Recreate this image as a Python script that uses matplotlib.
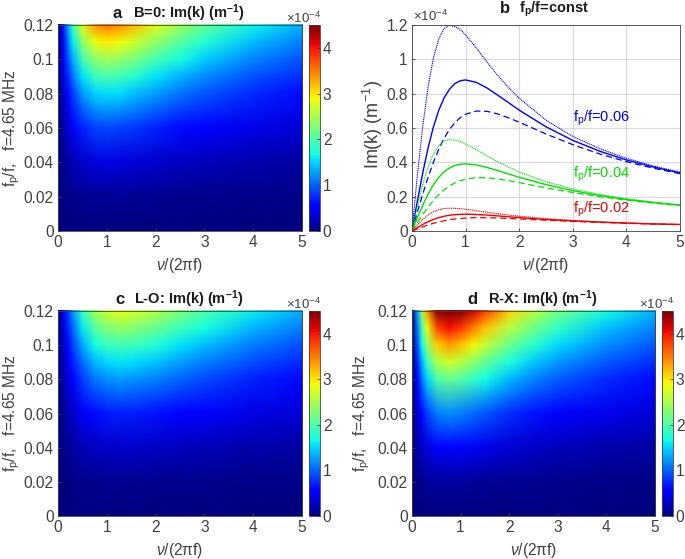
import numpy as np
import matplotlib
matplotlib.use('Agg')
import matplotlib.pyplot as plt
from matplotlib.image import NonUniformImage

plt.rcParams['font.family'] = ['Liberation Sans', 'DejaVu Sans']
plt.rcParams['mathtext.fontset'] = 'custom'
plt.rcParams['mathtext.rm'] = 'Liberation Sans'
plt.rcParams['mathtext.it'] = 'Liberation Sans:italic'
plt.rcParams['mathtext.bf'] = 'Liberation Sans:bold'

W, H = 685, 559
GREY = '#404040'
FS = 11.2

# heatmap grid, values in units of 1e-4 1/m
nu_grid = [0, 0.1, 0.2, 0.3, 0.5, 0.75, 1, 1.25, 1.5, 2, 2.5, 3, 4, 5]
fp_grid = [0, 0.02, 0.04, 0.06, 0.08, 0.09, 0.10, 0.11, 0.12]

im_b0 = [
    [0] * 14,
    [0, .019, .038, .054, .078, .094, .098, .095, .09, .078, .067, .059, .046, .038],
    [0, .077, .15, .215, .313, .375, .391, .381, .361, .313, .27, .234, .184, .15],
    [0, .174, .338, .484, .704, .845, .88, .859, .812, .704, .607, .528, .414, .338],
    [0, .31, .60, .86, 1.25, 1.50, 1.56, 1.53, 1.44, 1.25, 1.08, .94, .74, .60],
    [0, .39, .76, 1.09, 1.58, 1.90, 1.98, 1.93, 1.83, 1.58, 1.37, 1.19, .93, .76],
    [0, .48, .94, 1.35, 1.96, 2.35, 2.45, 2.39, 2.26, 1.96, 1.69, 1.47, 1.15, .94],
    [0, .58, 1.14, 1.63, 2.37, 2.84, 2.96, 2.89, 2.73, 2.37, 2.04, 1.77, 1.39, 1.14],
    [0, .70, 1.35, 1.94, 2.82, 3.38, 3.52, 3.44, 3.25, 2.82, 2.43, 2.11, 1.66, 1.35],
]
im_lo = [
    [0] * 14,
    [0, .012, .024, .035, .053, .068, .075, .078, .077, .07, .063, .056, .045, .037],
    [0, .049, .095, .139, .212, .272, .302, .311, .306, .281, .251, .223, .179, .148],
    [0, .11, .215, .313, .477, .613, .68, .701, .69, .634, .565, .503, .404, .334],
    [0, .196, .383, .557, .849, 1.09, 1.21, 1.25, 1.23, 1.13, 1.01, .895, .719, .595],
    [0, .248, .484, .704, 1.07, 1.38, 1.53, 1.58, 1.55, 1.43, 1.27, 1.13, .909, .752],
    [0, .306, .598, .87, 1.33, 1.70, 1.89, 1.95, 1.92, 1.76, 1.57, 1.40, 1.12, .929],
    [0, .37, .722, 1.05, 1.60, 2.06, 2.28, 2.36, 2.32, 2.13, 1.90, 1.69, 1.36, 1.12],
    [0, .44, .86, 1.25, 1.91, 2.45, 2.72, 2.80, 2.76, 2.54, 2.26, 2.01, 1.62, 1.34],
]
im_rx = [
    [0] * 14,
    [0, .036, .068, .093, .124, .133, .127, .116, .105, .086, .072, .061, .047, .038],
    [0, .143, .271, .373, .497, .533, .507, .464, .419, .343, .287, .245, .188, .152],
    [0, .323, .61, .84, 1.12, 1.20, 1.142, 1.045, .944, .773, .646, .551, .424, .343],
    [0, .575, 1.09, 1.50, 1.99, 2.14, 2.03, 1.86, 1.68, 1.38, 1.15, .98, .755, .61],
    [0, .727, 1.37, 1.89, 2.52, 2.70, 2.57, 2.35, 2.12, 1.74, 1.45, 1.24, .954, .772],
    [0, .90, 1.70, 2.34, 3.11, 3.34, 3.17, 2.91, 2.62, 2.15, 1.80, 1.53, 1.18, .954],
    [0, 1.09, 2.05, 2.82, 3.76, 4.03, 3.84, 3.51, 3.17, 2.60, 2.17, 1.85, 1.42, 1.15],
    [0, 1.29, 2.44, 3.36, 4.48, 4.80, 4.57, 4.18, 3.78, 3.09, 2.58, 2.20, 1.70, 1.37],
]

# panel b curves, units of 1e-4 1/m
nu_line = [0, .05, .1, .2, .3, .4, .5, .6, .7, .8, .9, 1, 1.2, 1.4, 1.6, 1.8, 2, 2.5, 3, 3.5, 4, 4.5, 5]

blue_solid = [0, .088, .174, .338, .484, .607, .704, .776, .826, .859, .875, .88, .866, .833, .791, .748, .704, .607, .528, .465, .414, .373, .338]
blue_dot = [0, .164, .323, .61, .84, 1.01, 1.12, 1.18, 1.20, 1.19, 1.175, 1.142, 1.066, .984, .906, .836, .773, .646, .551, .48, .424, .379, .343]
blue_dash = [0, .055, .11, .215, .313, .401, .477, .541, .592, .631, .66, .68, .699, .697, .682, .659, .634, .565, .503, .449, .404, .366, .334]

green_solid = [0, .039, .077, .15, .215, .27, .313, .345, .367, .382, .389, .391, .385, .37, .352, .332, .313, .27, .235, .207, .184, .166, .15]
green_dot = [0, .073, .143, .271, .373, .449, .497, .524, .533, .529, .522, .507, .474, .437, .403, .372, .343, .287, .245, .213, .188, .168, .152]
green_dash = [0, .024, .049, .095, .139, .178, .212, .24, .263, .28, .293, .302, .311, .31, .303, .293, .282, .251, .224, .2, .18, .163, .148]

red_solid = [0, .01, .019, .038, .054, .067, .078, .086, .092, .095, .097, .098, .096, .093, .088, .083, .078, .067, .059, .052, .046, .041, .038]
red_dot = [0, .018, .036, .068, .093, .112, .124, .131, .133, .132, .13, .127, .118, .109, .101, .093, .086, .072, .061, .053, .047, .042, .038]
red_dash = [0, .006, .012, .024, .035, .045, .053, .06, .066, .07, .073, .075, .078, .077, .076, .073, .07, .063, .056, .05, .045, .041, .037]

x_ticks = [0, 1, 2, 3, 4, 5]
fp_ticks = [0, 0.02, 0.04, 0.06, 0.08, 0.1, 0.12]
fp_labels = ['0', '0.02', '0.04', '0.06', '0.08', '0.1', '0.12']
k_ticks = [0, 0.2, 0.4, 0.6, 0.8, 1, 1.2]
k_labels = ['0', '0.2', '0.4', '0.6', '0.8', '1', '1.2']
cb_ticks = [0, 1, 2, 3, 4]

XLAB = r'$\mathit{\nu}$/(2$\mathrm{\pi}$f)'
YLAB = r'$\mathrm{f_p}$/f,   f=4.65 MHz'


def box(x0, x1, y0, y1):
    # pixel box (top left origin) to a figure axes
    return fig.add_axes([x0 / W, 1 - y1 / H, (x1 - x0) / W, (y1 - y0) / H])


def ptext(x, y, s, **kw):
    kw.setdefault('color', GREY)
    kw.setdefault('fontsize', FS)
    return fig.text(x / W, 1 - y / H, s, **kw)


def style(ax):
    ax.tick_params(direction='in', length=2.5, width=0.6, colors=GREY, labelsize=FS, pad=3)
    for s in ax.spines.values():
        s.set_color(GREY)
        s.set_linewidth(0.6)


def heat(vals, ax_box, cb_box, letter, lx, title, tx, ylab_x):
    ax = box(*ax_box)
    m = NonUniformImage(ax, interpolation='bilinear', cmap='jet', extent=(0, 5, 0, 0.12))
    m.set_clim(0, 4.5)
    # last row repeated just past the axis limit, the image edge shows a stray line otherwise
    m.set_data(nu_grid, fp_grid + [0.125], np.array(vals + [vals[-1]], dtype=float))
    ax.add_image(m)
    ax.set_xlim(0, 5)
    ax.set_ylim(0, 0.12)
    ax.set_aspect('auto')
    ax.set_xticks(x_ticks)
    ax.set_yticks(fp_ticks)
    ax.set_yticklabels(fp_labels)
    style(ax)
    cax = box(*cb_box)
    cb = fig.colorbar(m, cax=cax)
    cb.set_ticks(cb_ticks)
    cb.set_ticklabels([str(t) for t in cb_ticks])
    style(cax)
    cax.tick_params(right=True, left=False, pad=2)
    cb.outline.set_edgecolor(GREY)
    cb.outline.set_linewidth(0.6)
    top, bot = ax_box[2], ax_box[3]
    ptext(lx, top - 7.5, letter, fontsize=12, fontweight='bold', color='#1a1a1a', va='baseline')
    ptext(tx, top - 7.5, title, fontsize=10.5, fontweight='bold', color='#1a1a1a', va='baseline')
    ptext(cb_box[1] + 1, top - 2, r'$\times$10$^{-4}$', ha='right', va='baseline', fontsize=9.5)
    ptext((ax_box[0] + ax_box[1]) / 2, bot + 39, XLAB, ha='center', va='baseline')
    ptext(ylab_x, (top + bot) / 2, YLAB, rotation=90, ha='center', va='center')
    return ax


fig = plt.figure(figsize=(W / 100, H / 100), dpi=100)

heat(im_b0, (58, 302, 25, 231), (309, 320, 25, 231), 'a', 113, r'B=0: Im(k) (m$^{\mathbf{-1}}$)', 133, 12)
heat(im_lo, (58, 302, 311, 516), (309, 320, 311, 516), 'c', 115, r'L-O: Im(k) (m$^{\mathbf{-1}}$)', 134, 12)
heat(im_rx, (412, 655, 311, 516), (662, 673, 311, 516), 'd', 467, r'R-X: Im(k) (m$^{\mathbf{-1}}$)', 488, 362)

# panel b
axb = box(412, 680, 25, 231)
for solid, dot, dash, col in [(blue_solid, blue_dot, blue_dash, '#0000ee'),
                              (green_solid, green_dot, green_dash, '#00e000'),
                              (red_solid, red_dot, red_dash, '#ee0000')]:
    axb.plot(nu_line, solid, color=col, lw=1.0)
    axb.plot(nu_line, dot, color=col, lw=0.8, ls=':', dashes=(1, 0.7))
    axb.plot(nu_line, dash, color=col, lw=0.9, ls='--', dashes=(5, 3))
axb.set_xlim(0, 5)
axb.set_ylim(0, 1.2)
axb.set_xticks(x_ticks)
axb.set_yticks(k_ticks)
axb.set_yticklabels(k_labels)
axb.grid(True, color='#c8c8d8', lw=0.8, alpha=0.7)
axb.set_axisbelow(True)
style(axb)
for t, y, c in [('0.06', .635, '#0000ee'), ('0.04', .31, '#00e000'), ('0.02', .105, '#ee0000')]:
    axb.text(3.0, y, r'$\mathrm{f_p}$/f=' + t, color=c, fontsize=10.5, va='baseline')
ptext(500, 13, 'b', fontsize=12, fontweight='bold', color='#1a1a1a', va='baseline')
ptext(519, 13, r'$\mathbf{f_p}$/f=const', fontsize=10.5, fontweight='bold', color='#1a1a1a', va='baseline')
ptext(413, 21, r'$\times$10$^{-4}$', va='baseline', fontsize=9.5)
ptext(546, 270, XLAB, ha='center', va='baseline')
ptext(373, 125, r'Im(k) (m$^{-1}$)', rotation=90, ha='center', va='center', fontsize=13)

fig.savefig('out.png', dpi=100)
